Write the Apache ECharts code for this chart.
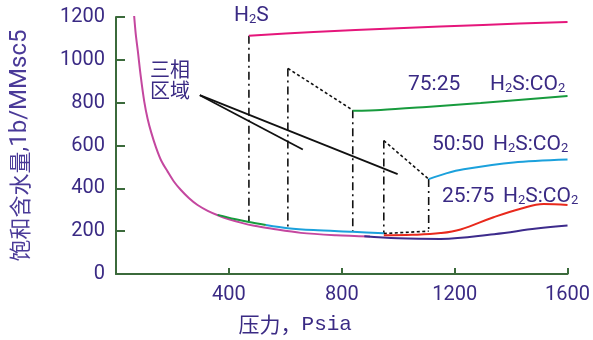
<!DOCTYPE html>
<html><head><meta charset="utf-8">
<script src="https://cdn.jsdelivr.net/npm/echarts@6/dist/echarts.min.js"></script>
<style>html,body{margin:0;padding:0;background:#fff}#c{width:593px;height:340px}</style>
</head><body><div id="c"></div>
<script>
// ---- data (psia, lb/MMscf) ----
const baseCurve = [[64,1210],[70,1120],[77,1045],[88,920],[100,806],[112,725],[125,660],[142,590],[160,530],[183,478],[205,432],[230,392],[258,355],[289,322],[325,295],[365,272],[400,256],[442,240],[490,225],[549,212],[655,192],[780,181],[900,175]];
const greenLow = [[360,276],[420,257],[471,243],[531,229]];
const blueLow = [[531,229],[609,214],[700,205],[839,197],[949,190]];
const purpleCurve = [[880,176],[1000,167],[1150,164],[1340,186],[1490,212],[1600,226]];
const redCurve = [[949,181],[1050,183],[1150,191],[1221,208],[1338,265],[1434,305],[1515,327],[1600,322]];
const h2sLine = [[471,1112],[700,1130],[998,1147],[1300,1163],[1600,1177]];
const g7525 = [[839,762],[938,766],[1100,780],[1292,798],[1600,831]];
const b5050 = [[1108,443],[1170,470],[1232,489],[1409,521],[1600,535]];
const dashDotLines = [[[471,1112],[471,245]],[[609,960],[609,212]],[[839,765],[839,198]],[[949,623],[949,189]],[[1108,443],[1108,200]]];
const dottedLines = [[[609,960],[839,765]],[[949,623],[1108,443]],[[949,189],[1108,200]]];
const leaderLines = [[[297,835],[998,466]],[[297,835],[662,581]]];

const txt = '#3a2a84';
const axisCol = '#3b6a3b';

function curve(data, color, smooth){
  return {type:'line', data:data, showSymbol:false, smooth:smooth,
    lineStyle:{color:color, width:2}, silent:true, z:3};
}
const series = [
  curve(baseCurve,'#c4479f',0.3),
  curve(greenLow,'#179b3d',0.3),
  curve(blueLow,'#1ba1dc',0.3),
  curve(purpleCurve,'#3d2b8c',0.4),
  curve(redCurve,'#e8291c',0.4),
  curve(h2sLine,'#e5167b',0.3),
  curve(g7525,'#179b3d',0.3),
  curve(b5050,'#1ba1dc',0.3)
];
dashDotLines.forEach(d=>series.push({type:'line',data:d,showSymbol:false,silent:true,z:2,
  lineStyle:{color:'#111',width:1.6,type:[8,4,2,4]}}));
dottedLines.forEach(d=>series.push({type:'line',data:d,showSymbol:false,silent:true,z:2,
  lineStyle:{color:'#111',width:1.6,type:[3,2.5]}}));
leaderLines.forEach(d=>series.push({type:'line',data:d,showSymbol:false,silent:true,z:4,
  lineStyle:{color:'#111',width:1.8}}));

const lab = 'Roboto';
const rich = {n:{fontFamily:lab,fontSize:21,color:txt}, s:{fontFamily:lab,fontSize:13,color:txt,verticalAlign:'bottom'}};
function t(x,y,text){
  return {type:'text',x:x,y:y,silent:true,style:{text:text,rich:rich,verticalAlign:'middle',fill:txt,font:'21px Roboto'}};
}
const chart = echarts.init(document.getElementById('c'));
chart.setOption({
  animation:false,
  grid:{left:115,right:25,top:17,bottom:63},
  xAxis:{type:'value',min:0,max:1600,interval:400,
    axisLine:{show:true,lineStyle:{color:axisCol,width:2}},
    axisTick:{show:true,inside:true,length:6,lineStyle:{color:axisCol,width:2}},
    splitLine:{show:false},
    axisLabel:{showMinLabel:false,color:txt,fontFamily:lab,fontSize:20,margin:11,formatter:v=>String(v)},
    name:'{c|压力，}{m|Psia}',nameLocation:'middle',nameGap:40,
    nameTextStyle:{padding:[0,93,0,0],rich:{c:{fontFamily:'Noto Sans CJK SC',fontSize:21,color:txt},m:{fontFamily:'Liberation Mono',fontSize:21,color:txt}}}
  },
  yAxis:{type:'value',min:0,max:1200,interval:200,
    axisLine:{show:true,lineStyle:{color:axisCol,width:2}},
    axisTick:{show:true,inside:true,length:9,lineStyle:{color:axisCol,width:2}},
    splitLine:{show:false},
    axisLabel:{color:txt,fontFamily:lab,fontSize:20,margin:11,formatter:v=>String(v)},
    name:'{c|饱和含水量}{m|,1b/MMsc5}',nameLocation:'middle',nameGap:84,
    nameTextStyle:{rich:{c:{fontFamily:'Noto Sans CJK SC',fontSize:22,color:'#4a3a98'},m:{fontFamily:lab,fontSize:24,color:'#4a3a98'}}}
  },
  graphic:[
    t(234,16,'{n|H}{s|2}{n|S}'),
    t(408,85,'{n|75:25}'), t(490,85,'{n|H}{s|2}{n|S:CO}{s|2}'),
    t(432,145,'{n|50:50}'), t(493,145,'{n|H}{s|2}{n|S:CO}{s|2}'),
    t(442,197,'{n|25:75}'), t(503,197,'{n|H}{s|2}{n|S:CO}{s|2}'),
    {type:'text',x:150,y:69,silent:true,style:{text:'三相',font:'20px "Noto Sans CJK SC"',fill:txt,verticalAlign:'middle'}},
    {type:'text',x:150,y:90,silent:true,style:{text:'区域',font:'20px "Noto Sans CJK SC"',fill:txt,verticalAlign:'middle'}}
  ],
  series:series
});
</script></body></html>
